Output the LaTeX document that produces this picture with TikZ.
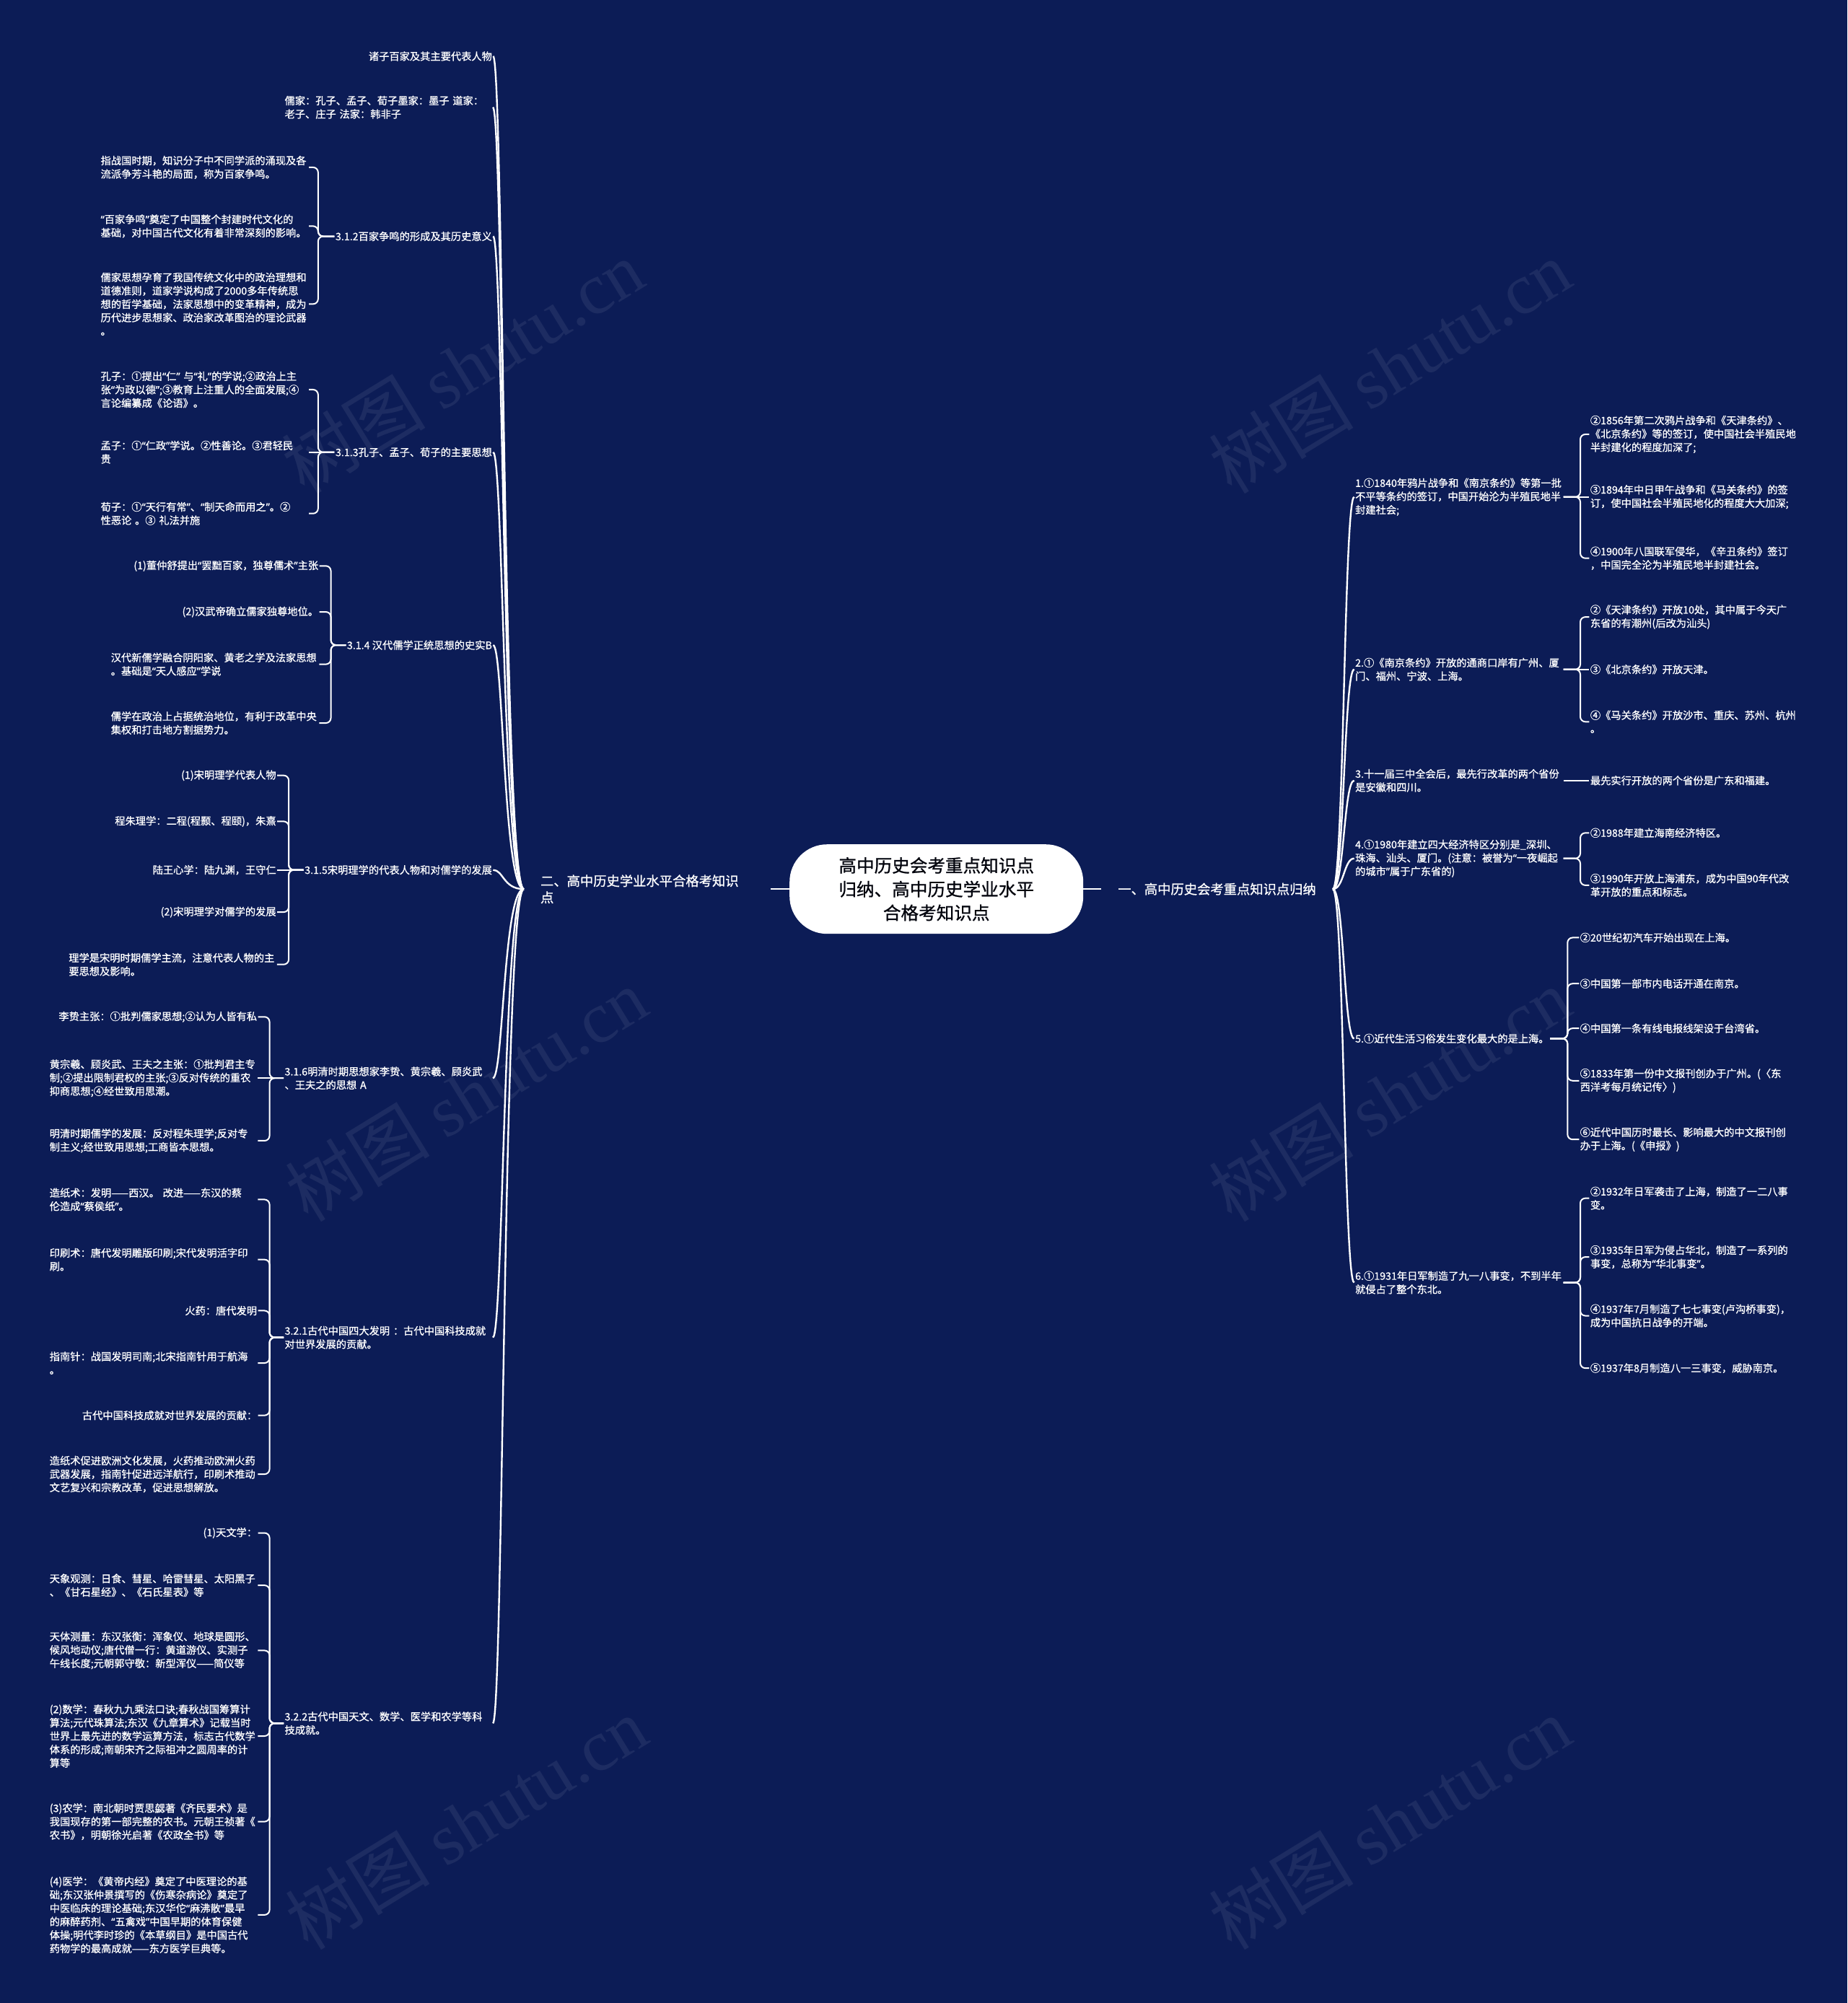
\documentclass[tikz,border=0pt]{standalone}
\usepackage{fontspec}
\setmainfont{Noto Sans CJK SC}[FakeBold=0.9]
\newfontfamily\wmserif{Liberation Serif}
\newfontfamily\wmsans{Noto Sans CJK SC}
\newfontfamily\qfont{Noto Sans}[FakeBold=0.9]
\newcommand{\myql}{{\qfont “}}
\newcommand{\myqr}{{\qfont ”}}
\definecolor{bg}{RGB}{12,28,86}
\colorlet{wmcol}{bg!93!white}
\newcommand{\mylbr}[3]{\draw[conn] (#1.west) -- (#2 |- #1.west) -- (#2 |- #3.east) -- (#3.east);}
\newcommand{\myrbr}[3]{\draw[conn] (#1.east) -- (#2 |- #1.east) -- (#2 |- #3.west) -- (#3.west);}
\newcommand{\mylmain}[2]{\draw[mainconn] (#1.west) .. controls (bl |- #1.west) and (bl |- #2.east) .. (#2.east);}
\newcommand{\myrmain}[2]{\draw[mainconn] (#1.east) .. controls (br |- #1.east) and (br |- #2.west) .. (#2.west);}
\begin{document}
\begin{tikzpicture}[x=1.7704pt,y=-1.7704pt,
  leaf/.style={font=\fontsize{14.25}{18.6}\selectfont, text=white, inner xsep=1.5pt, inner ysep=1pt, outer sep=0pt},
  lone/.style={leaf, anchor=east},
  rone/.style={leaf, anchor=west},
  multi/.style={leaf, anchor=west, align=left, text width=287pt},
  topic/.style={font=\fontsize{18.3}{23}\selectfont, text=white, inner xsep=23pt, inner ysep=3pt, anchor=west, align=left},
  centre/.style={fill=white, rounded corners=52pt, minimum width=407pt, minimum height=124pt, align=center, text=black!85!bg, font=\fontsize{24.6}{32.8}\selectfont},
  conn/.style={draw=white, line width=2pt, rounded corners=7pt},
  mainconn/.style={draw=white, line width=2.4pt},
  wmark/.style={text=wmcol, rotate=31.5, font=\wmsans\fontsize{100}{100}\selectfont}
]
\fill[bg] (0,0) rectangle (1446,1568);
\useasboundingbox (0,0) rectangle (1446,1568);

% watermarks
\node[wmark] (wm1) at (362,287) {树图 {\wmserif shutu.cn}};
\node[wmark] (wm2) at (1088,287) {树图 {\wmserif shutu.cn}};
\node[wmark] (wm3) at (365,857) {树图 {\wmserif shutu.cn}};
\node[wmark] (wm4) at (1088,857) {树图 {\wmserif shutu.cn}};
\node[wmark] (wm5) at (365,1427) {树图 {\wmserif shutu.cn}};
\node[wmark] (wm6) at (1088,1427) {树图 {\wmserif shutu.cn}};

\coordinate (bl) at (394,0);
\coordinate (br) at (1052,0);

% centre and topics
\node[centre] (C) at (733,696) {高中历史会考重点知识点\\归纳、高中历史学业水平\\合格考知识点};
\node[topic, text width=296pt] (L) at (410,696) {二、高中历史学业水平合格考知识\\点};
\node[topic] (R) at (862,696) {一、高中历史会考重点知识点归纳};
\draw[mainconn] (C.west) -- (L.east);
\draw[mainconn] (C.east) -- (R.west);

% ---------- left branch ----------
\node[lone] (n1) at (386,44) {诸子百家及其主要代表人物};
\node[multi] (n2) at (222,84) {儒家：孔子、孟子、荀子墨家：墨子~道家：\\老子、庄子~法家：韩非子};
\node[lone] (n3) at (386,185) {3.1.2百家争鸣的形成及其历史意义};
\node[lone] (n4) at (386,354) {3.1.3孔子、孟子、荀子的主要思想};
\node[lone] (n5) at (386,505) {3.1.4 汉代儒学正统思想的史实B};
\node[lone] (n6) at (386,681) {3.1.5宋明理学的代表人物和对儒学的发展};
\node[multi] (n7) at (222,844) {3.1.6明清时期思想家李贽、黄宗羲、顾炎武\\、王夫之的思想~A};
\node[multi] (n8) at (222,1047) {3.2.1古代中国四大发明~：古代中国科技成就\\对世界发展的贡献。};
\node[multi] (n9) at (222,1349) {3.2.2古代中国天文、数学、医学和农学等科\\技成就。};
\foreach \k in {n1,n2,n3,n4,n5,n6,n7,n8,n9} {\mylmain{L}{\k}}

% 3.1.2
\coordinate (b3) at (249,0);
\node[multi] (c31) at (78,131) {指战国时期，知识分子中不同学派的涌现及各\\流派争芳斗艳的局面，称为百家争鸣。};
\node[multi] (c32) at (78,177) {\myql{}百家争鸣\myqr{}奠定了中国整个封建时代文化的\\基础，对中国古代文化有着非常深刻的影响。};
\node[multi] (c33) at (78,238) {儒家思想孕育了我国传统文化中的政治理想和\\道德准则，道家学说构成了2000多年传统思\\想的哲学基础，法家思想中的变革精神，成为\\历代进步思想家、政治家改革图治的理论武器\\。};
\mylbr{n3}{b3}{c31} \mylbr{n3}{b3}{c32} \mylbr{n3}{b3}{c33}

% 3.1.3
\coordinate (b4) at (249,0);
\node[multi] (c41) at (78,305) {孔子：①提出\myql{}仁\myqr{}~与\myql{}礼\myqr{}的学说;②政治上主\\张\myql{}为政以德\myqr{};③教育上注重人的全面发展;④\\言论编纂成《论语》。};
\node[multi] (c42) at (78,354) {孟子：①\myql{}仁政\myqr{}学说。②性善论。③君轻民\\贵};
\node[multi] (c43) at (78,402) {荀子：①\myql{}天行有常\myqr{}、\myql{}制天命而用之\myqr{}。②\\性恶论~。③~礼法并施};
\mylbr{n4}{b4}{c41} \draw[conn] (n4.west) -- (c42.east); \mylbr{n4}{b4}{c43}

% 3.1.4
\coordinate (b5) at (259,0);
\node[lone] (c51) at (250,443) {(1)董仲舒提出\myql{}罢黜百家，独尊儒术\myqr{}主张};
\node[lone] (c52) at (250,479) {(2)汉武帝确立儒家独尊地位。};
\node[multi] (c53) at (86,520) {汉代新儒学融合阴阳家、黄老之学及法家思想\\。基础是\myql{}天人感应\myqr{}学说};
\node[multi] (c54) at (86,566) {儒学在政治上占据统治地位，有利于改革中央\\集权和打击地方割据势力。};
\mylbr{n5}{b5}{c51} \mylbr{n5}{b5}{c52} \mylbr{n5}{b5}{c53} \mylbr{n5}{b5}{c54}

% 3.1.5
\coordinate (b6) at (226,0);
\node[lone] (c61) at (217,607) {(1)宋明理学代表人物};
\node[lone] (c62) at (217,643) {程朱理学：二程(程颢、程颐)，朱熹};
\node[lone] (c63) at (217,681) {陆王心学：陆九渊，王守仁};
\node[lone] (c64) at (217,714) {(2)宋明理学对儒学的发展};
\node[multi] (c65) at (53,755) {理学是宋明时期儒学主流，注意代表人物的主\\要思想及影响。};
\mylbr{n6}{b6}{c61} \mylbr{n6}{b6}{c62} \draw[conn] (n6.west) -- (c63.east); \mylbr{n6}{b6}{c64} \mylbr{n6}{b6}{c65}

% 3.1.6
\coordinate (b7) at (211,0);
\node[lone] (c71) at (202,796) {李贽主张：①批判儒家思想;②认为人皆有私};
\node[multi] (c72) at (38,844) {黄宗羲、顾炎武、王夫之主张：①批判君主专\\制;②提出限制君权的主张;③反对传统的重农\\抑商思想;④经世致用思潮。};
\node[multi] (c73) at (38,893) {明清时期儒学的发展：反对程朱理学;反对专\\制主义;经世致用思想;工商皆本思想。};
\mylbr{n7}{b7}{c71} \draw[conn] (n7.west) -- (c72.east); \mylbr{n7}{b7}{c73}

% 3.2.1
\coordinate (b8) at (211,0);
\node[multi] (c81) at (38,939) {造纸术：发明——西汉。~改进——东汉的蔡\\伦造成\myql{}蔡侯纸\myqr{}。};
\node[multi] (c82) at (38,986) {印刷术：唐代发明雕版印刷;宋代发明活字印\\刷。};
\node[lone] (c83) at (202,1026) {火药：唐代发明};
\node[multi] (c84) at (38,1067) {指南针：战国发明司南;北宋指南针用于航海\\。};
\node[lone] (c85) at (202,1108) {古代中国科技成就对世界发展的贡献：};
\node[multi] (c86) at (38,1154) {造纸术促进欧洲文化发展，火药推动欧洲火药\\武器发展，指南针促进远洋航行，印刷术推动\\文艺复兴和宗教改革，促进思想解放。};
\mylbr{n8}{b8}{c81} \mylbr{n8}{b8}{c82} \mylbr{n8}{b8}{c83} \mylbr{n8}{b8}{c84} \mylbr{n8}{b8}{c85} \mylbr{n8}{b8}{c86}

% 3.2.2
\coordinate (b9) at (211,0);
\node[lone] (c91) at (202,1200) {(1)天文学：};
\node[multi] (c92) at (38,1241) {天象观测：日食、彗星、哈雷彗星、太阳黑子\\、《甘石星经》、《石氏星表》等};
\node[multi] (c93) at (38,1292) {天体测量：东汉张衡：浑象仪、地球是圆形、\\候风地动仪;唐代僧一行：黄道游仪、实测子\\午线长度;元朝郭守敬：新型浑仪——简仪等};
\node[multi] (c94) at (38,1359) {(2)数学：春秋九九乘法口诀;春秋战国筹算计\\算法;元代珠算法;东汉《九章算术》记载当时\\世界上最先进的数学运算方法，标志古代数学\\体系的形成;南朝宋齐之际祖冲之圆周率的计\\算等};
\node[multi] (c95) at (38,1426) {(3)农学：南北朝时贾思勰著《齐民要术》是\\我国现存的第一部完整的农书。元朝王祯著《\\农书》，明朝徐光启著《农政全书》等};
\node[multi] (c96) at (38,1499) {(4)医学：《黄帝内经》奠定了中医理论的基\\础;东汉张仲景撰写的《伤寒杂病论》奠定了\\中医临床的理论基础;东汉华佗\myql{}麻沸散\myqr{}最早\\的麻醉药剂、\myql{}五禽戏\myqr{}中国早期的体育保健\\体操;明代李时珍的《本草纲目》是中国古代\\药物学的最高成就——东方医学巨典等。};
\mylbr{n9}{b9}{c91} \mylbr{n9}{b9}{c92} \mylbr{n9}{b9}{c93} \mylbr{n9}{b9}{c94} \mylbr{n9}{b9}{c95} \mylbr{n9}{b9}{c96}

% ---------- right branch ----------
\node[multi] (m1) at (1060,389) {1.①1840年鸦片战争和《南京条约》等第一批\\不平等条约的签订，中国开始沦为半殖民地半\\封建社会;};
\node[multi] (m2) at (1060,524) {2.①《南京条约》开放的通商口岸有广州、厦\\门、福州、宁波、上海。};
\node[multi] (m3) at (1060,611) {3.十一届三中全会后，最先行改革的两个省份\\是安徽和四川。};
\node[multi] (m4) at (1060,672) {4.①1980年建立四大经济特区分别是\_深圳、\\珠海、汕头、厦门。(注意：被誉为\myql{}一夜崛起\\的城市\myqr{}属于广东省的)};
\node[rone] (m5) at (1060,813) {5.①近代生活习俗发生变化最大的是上海。};
\node[multi] (m6) at (1060,1004) {6.①1931年日军制造了九一八事变，不到半年\\就侵占了整个东北。};
\foreach \k in {m1,m2,m3,m4,m5,m6} {\myrmain{R}{\k}}

\coordinate (d1) at (1237,0);
\node[multi] (e11) at (1244,340) {②1856年第二次鸦片战争和《天津条约》、\\《北京条约》等的签订，使中国社会半殖民地\\半封建化的程度加深了;};
\node[multi] (e12) at (1244,389) {③1894年中日甲午战争和《马关条约》的签\\订，使中国社会半殖民地化的程度大大加深;};
\node[multi] (e13) at (1244,437) {④1900年八国联军侵华，《辛丑条约》签订\\，中国完全沦为半殖民地半封建社会。};
\myrbr{m1}{d1}{e11} \draw[conn] (m1.east) -- (e12.west); \myrbr{m1}{d1}{e13}

\coordinate (d2) at (1237,0);
\node[multi] (e21) at (1244,483) {②《天津条约》开放10处，其中属于今天广\\东省的有潮州(后改为汕头)};
\node[rone] (e22) at (1244,524) {③《北京条约》开放天津。};
\node[multi] (e23) at (1244,565) {④《马关条约》开放沙市、重庆、苏州、杭州\\。};
\myrbr{m2}{d2}{e21} \draw[conn] (m2.east) -- (e22.west); \myrbr{m2}{d2}{e23}

\node[rone] (e31) at (1244,611) {最先实行开放的两个省份是广东和福建。};
\draw[conn] (m3.east) -- (e31.west);

\coordinate (d4) at (1237,0);
\node[rone] (e41) at (1244,652) {②1988年建立海南经济特区。};
\node[multi] (e42) at (1244,693) {③1990年开放上海浦东，成为中国90年代改\\革开放的重点和标志。};
\myrbr{m4}{d4}{e41} \myrbr{m4}{d4}{e42}

\coordinate (d5) at (1227,0);
\node[rone] (e51) at (1236,734) {②20世纪初汽车开始出现在上海。};
\node[rone] (e52) at (1236,770) {③中国第一部市内电话开通在南京。};
\node[rone] (e53) at (1236,805) {④中国第一条有线电报线架设于台湾省。};
\node[multi] (e54) at (1236,846) {⑤1833年第一份中文报刊创办于广州。(〈东\\西洋考每月统记传〉)};
\node[multi] (e55) at (1236,892) {⑥近代中国历时最长、影响最大的中文报刊创\\办于上海。(《申报》)};
\myrbr{m5}{d5}{e51} \myrbr{m5}{d5}{e52} \myrbr{m5}{d5}{e53} \myrbr{m5}{d5}{e54} \myrbr{m5}{d5}{e55}

\coordinate (d6) at (1237,0);
\node[multi] (e61) at (1244,938) {②1932年日军袭击了上海，制造了一二八事\\变。};
\node[multi] (e62) at (1244,984) {③1935年日军为侵占华北，制造了一系列的\\事变，总称为\myql{}华北事变\myqr{}。};
\node[multi] (e63) at (1244,1030) {④1937年7月制造了七七事变(卢沟桥事变)，\\成为中国抗日战争的开端。};
\node[rone] (e64) at (1244,1071) {⑤1937年8月制造八一三事变，威胁南京。};
\myrbr{m6}{d6}{e61} \myrbr{m6}{d6}{e62} \myrbr{m6}{d6}{e63} \myrbr{m6}{d6}{e64}
\end{tikzpicture}
\end{document}
